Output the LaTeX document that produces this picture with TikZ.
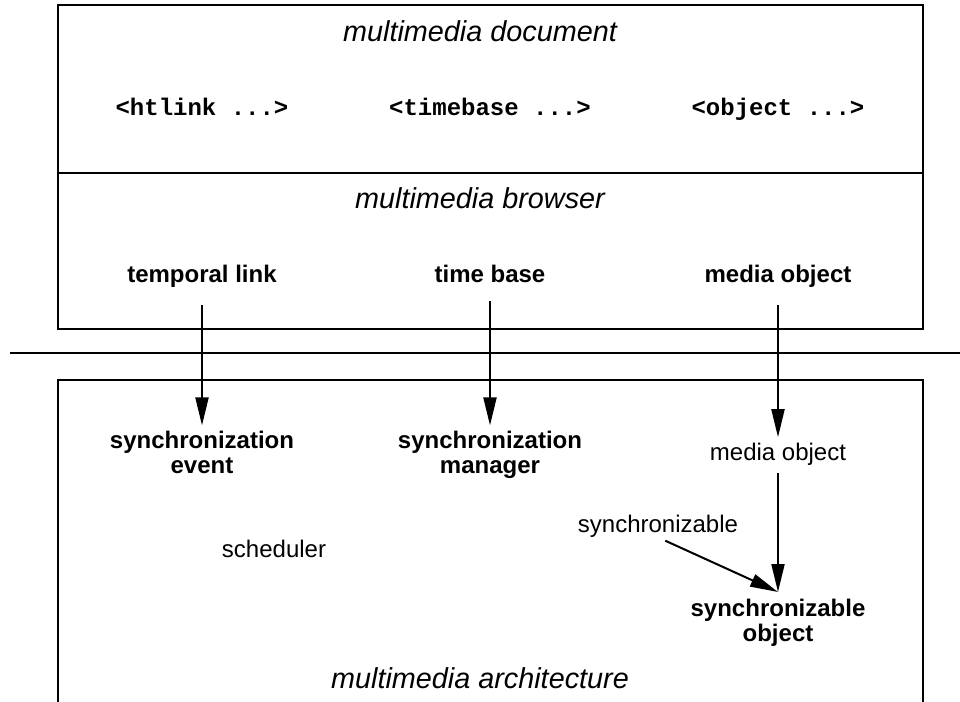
\documentclass[tikz,border=0pt]{standalone}
\usepackage{fontspec}
\setmainfont{Liberation Sans}
\setmonofont{Liberation Mono}
\usetikzlibrary{arrows.meta}
\begin{document}
\begin{tikzpicture}[x=0.5pt,y=-0.5pt,
  frame/.style={line width=0.6pt},
  title/.style={font=\fontsize{14.4}{16}\selectfont\itshape, inner sep=0, anchor=base},
  tag/.style={font=\fontsize{12}{13}\selectfont\ttfamily\bfseries, inner sep=0, anchor=base},
  strong/.style={font=\fontsize{12}{12.4}\selectfont\bfseries, align=center, inner sep=0, anchor=base},
  plain/.style={font=\fontsize{12}{12.4}\selectfont, inner sep=0, anchor=base},
  flow/.style={line width=1pt, -{Triangle[length=14pt,width=6.5pt]}}
]
\useasboundingbox (0,0) rectangle (960,702);
% frames
\draw[frame] (58,5) rectangle (923,329);
\draw[frame] (58,173) -- (923,173);
\draw[frame] (10,353) -- (960,353);
\draw[frame] (58,702) -- (58,380) -- (923,380) -- (923,702);
% document
\node[title] (doc) at (480,41) {multimedia document};
\node[tag] (htl) at (202,115) {<htlink ...>};
\node[tag] (tbs) at (490,115) {<timebase ...>};
\node[tag] (obj) at (778,115) {<object ...>};
% browser
\node[title] (brw) at (480,208) {multimedia browser};
\node[strong] (tl) at (202,282) {temporal link};
\node[strong] (tb) at (490,282) {time base};
\node[strong] (mob) at (778,282) {media object};
% architecture
\node[strong] (se) at (202,473) {synchronization\\event};
\node[strong] (sm) at (490,473) {synchronization\\manager};
\node[plain] (mo) at (778,460) {media object};
\node[plain] (syn) at (658,532) {synchronizable};
\node[plain] (sch) at (274,557) {scheduler};
\coordinate (meet) at (778,592);
\node[strong] (so) at (778,641) {synchronizable\\object};
\node[title] (arch) at (480,688) {multimedia architecture};
% connectors
\draw[flow, shorten <=9pt, shorten >=2.5pt] (tl.south) -- (tl.south |- se.north);
\draw[flow, shorten <=9pt, shorten >=2.5pt] (tb.south) -- (tb.south |- sm.north);
\draw[flow, shorten <=9pt, shorten >=2.5pt] (mob.south) -- (mob.south |- mo.north);
\draw[flow, shorten <=4pt] (mo.south) -- (meet);
\draw[flow, shorten <=4pt] (syn.south) -- (meet);
\end{tikzpicture}
\end{document}
